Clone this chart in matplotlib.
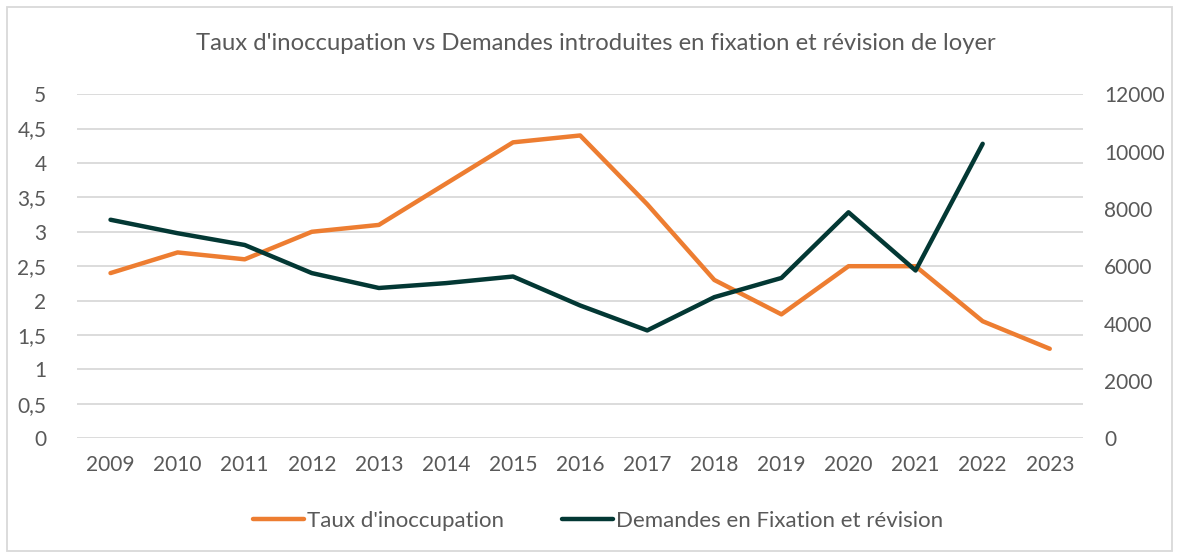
import matplotlib.pyplot as plt
import matplotlib.patches as mpatches
from matplotlib.ticker import FuncFormatter

years = ["2009", "2010", "2011", "2012", "2013", "2014", "2015", "2016",
         "2017", "2018", "2019", "2020", "2021", "2022", "2023"]
taux = [2.4, 2.7, 2.6, 3.0, 3.1, 3.7, 4.3, 4.4, 3.4, 2.3, 1.8, 2.5, 2.5, 1.7, 1.3]
demandes = [7620, 7150, 6740, 5760, 5240, 5410, 5640, 4630, 3760, 4920,
            5590, 7880, 5850, 10270]

orange = "#ED7D31"
dark = "#033834"
txt = "#595959"
grid = "#D9D9D9"

plt.rcParams["font.family"] = ["Lato", "DejaVu Sans"]

fig = plt.figure(figsize=(11.77, 5.54), dpi=100)
ax = fig.add_axes([0.0654, 0.209, 0.855, 0.621])
ax2 = ax.twinx()

xs = list(range(len(years)))
l1, = ax.plot(xs, taux, color=orange, linewidth=3.2, solid_capstyle="round",
              solid_joinstyle="round", zorder=3, label="Taux d'inoccupation")
l2, = ax2.plot(xs[:len(demandes)], demandes, color=dark, linewidth=3.2,
               solid_capstyle="round", solid_joinstyle="round", zorder=3,
               label="Demandes en Fixation et révision")

ax.set_xlim(-0.5, len(years) - 0.5)
ax.set_ylim(0, 5)
ax2.set_ylim(0, 12000)
ax.set_yticks([i * 0.5 for i in range(11)])
ax2.set_yticks(range(0, 12001, 2000))
ax.yaxis.set_major_formatter(FuncFormatter(lambda v, p: f"{v:g}".replace(".", ",")))
ax.set_xticks(xs)
ax.set_xticklabels(years)

ax.grid(axis="y", color=grid, linewidth=1.3, zorder=0)
ax.set_axisbelow(True)
for a in (ax, ax2):
    for s in a.spines.values():
        s.set_visible(False)
    a.tick_params(length=0, labelsize=15, labelcolor=txt)
ax.tick_params(axis="y", pad=22)
ax.tick_params(axis="x", pad=12)
ax2.tick_params(axis="y", pad=15)
ax2.set_zorder(ax.get_zorder() + 1)
ax2.patch.set_visible(False)

fig.suptitle("Taux d'inoccupation vs Demandes introduites en fixation et révision de loyer",
             x=0.506, y=0.94, fontsize=17.2, color=txt)

fig.legend(handles=[l1, l2], loc="center", bbox_to_anchor=(0.508, 0.06), ncol=2,
           frameon=False, fontsize=16, labelcolor=txt, handlelength=2.3,
           handletextpad=0.15, columnspacing=2.6)

fig.patches.append(mpatches.Rectangle((0.006, 0.006), 0.99, 0.981, transform=fig.transFigure,
                                      fill=False, edgecolor=grid, linewidth=1.3))

plt.savefig("out.png", dpi=100)
